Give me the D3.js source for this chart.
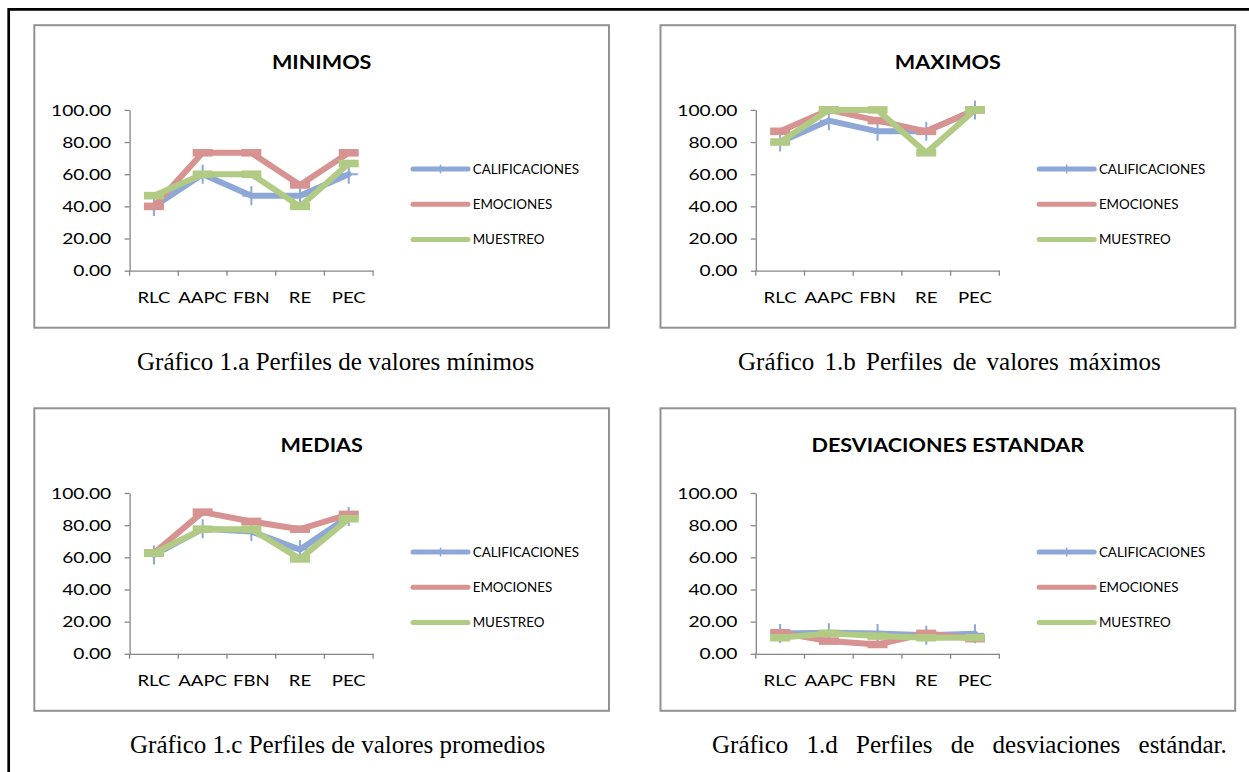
<!DOCTYPE html>
<html>
<head>
<meta charset="utf-8">
<script src="https://cdn.jsdelivr.net/npm/d3@7"></script>
<style>
  body { margin: 0; background: #fff; }
  svg { display: block; }
</style>
</head>
<body>
<svg id="fig" width="1249" height="772"></svg>
<script>
// ---- data ----
const categories = ["RLC", "AAPC", "FBN", "RE", "PEC"];
const seriesNames = ["CALIFICACIONES", "EMOCIONES", "MUESTREO"];
const yTickValues = [0, 20, 40, 60, 80, 100];

const panelTitles = ["MINIMOS", "MAXIMOS", "MEDIAS", "DESVIACIONES ESTANDAR"];
const captions = [
  "Gráfico 1.a Perfiles de valores mínimos",
  "Gráfico 1.b Perfiles de valores máximos",
  "Gráfico 1.c Perfiles de valores promedios",
  "Gráfico 1.d Perfiles de desviaciones estándar."
];

// mínimos
const minCalificaciones = [40.00, 60.00, 46.67, 46.67, 60.00];
const minEmociones      = [40.00, 73.33, 73.33, 53.33, 73.33];
const minMuestreo       = [46.67, 60.00, 60.00, 40.00, 66.67];
// máximos
const maxCalificaciones = [80.00, 93.33, 86.67, 86.67, 100.00];
const maxEmociones      = [86.67, 100.00, 93.33, 86.67, 100.00];
const maxMuestreo       = [80.00, 100.00, 100.00, 73.33, 100.00];
// medias
const medCalificaciones = [61.5, 77.7, 76.0, 64.8, 85.4];
const medEmociones      = [62.7, 88.1, 82.3, 77.5, 86.7];
const medMuestreo       = [62.5, 77.5, 77.5, 59.0, 84.0];
// desviaciones estándar
const desCalificaciones = [12.7, 13.1, 12.7, 11.5, 12.5];
const desEmociones      = [13.1, 7.9, 5.8, 12.7, 9.4];
const desMuestreo       = [10.0, 12.7, 11.0, 10.0, 10.0];

const panelSeries = [
  [minCalificaciones, minEmociones, minMuestreo],
  [maxCalificaciones, maxEmociones, maxMuestreo],
  [medCalificaciones, medEmociones, medMuestreo],
  [desCalificaciones, desEmociones, desMuestreo]
];

// ---- styling / layout ----
const colors = ["#8DA8D6", "#D69391", "#B2CB84"];
const markerKind = ["plus", "dash", "dash"];
const axisColor = "#868686";
const chartFont = "Lato, 'Open Sans', sans-serif";
const captionFont = "'Liberation Serif', 'Times New Roman', serif";
const SX = 1.2;            // horizontal stretch of the embedded chart text

const boxes = [
  { x: 34.3, y: 25.2 }, { x: 660.5, y: 25.2 },
  { x: 34.3, y: 408.3 }, { x: 660.5, y: 408.3 }
];
const boxW = 574.7, boxH = 302.5;
// caption placement: left edge, baseline, extra word spacing
const captionLayout = [
  { x: 137, y: 370, ws: 0 }, { x: 738, y: 370, ws: 4 },
  { x: 130, y: 753, ws: 0 }, { x: 712, y: 753, ws: 12 }
];

const svg = d3.select("#fig");
svg.append("rect").attr("width", 1249).attr("height", 772).attr("fill", "#fff");

// page frame (left and top rules)
svg.append("path")
  .attr("d", "M8.7,772V9.3H1249")
  .attr("fill", "none").attr("stroke", "#000").attr("stroke-width", 2.7);

function drawPanel(i) {
  const b = boxes[i];
  const g = svg.append("g").attr("transform", `translate(${b.x},${b.y})`);

  g.append("rect")
    .attr("width", boxW).attr("height", boxH)
    .attr("fill", "#fff").attr("stroke", "#929292").attr("stroke-width", 2);

  const x = d3.scaleBand().domain(categories).range([95.3, 338.8]);
  const y = d3.scaleLinear().domain([0, 100]).range([245.5, 84.7]);
  const cx = c => x(c) + x.bandwidth() / 2;

  // title
  g.append("text")
    .attr("transform", `translate(${boxW / 2},43.3) scale(${SX},1)`)
    .attr("text-anchor", "middle")
    .attr("font-family", chartFont).attr("font-weight", "bold")
    .attr("font-size", 18).attr("fill", "#000")
    .text(panelTitles[i]);

  // y axis
  const yAxis = g.append("g")
    .attr("transform", `translate(${x.range()[0]},0)`)
    .call(d3.axisLeft(y).tickValues(yTickValues).tickSize(5).tickSizeOuter(0)
      .tickPadding(10.3).tickFormat(d3.format(".2f")));
  yAxis.select(".domain").attr("stroke", axisColor).attr("stroke-width", 1.3);
  yAxis.selectAll(".tick line").attr("stroke", axisColor).attr("stroke-width", 1.3);
  yAxis.selectAll(".tick text")
    .attr("font-family", chartFont).attr("font-size", 16).attr("fill", "#000")
    .attr("transform", `scale(${SX},1)`);

  // x axis: labels centred in bands, ticks on band boundaries
  const xAxis = g.append("g")
    .attr("transform", `translate(0,${y(0)})`)
    .call(d3.axisBottom(x).tickSize(0).tickSizeOuter(0));
  xAxis.select(".domain").attr("stroke", axisColor).attr("stroke-width", 1.3);
  xAxis.selectAll(".tick text")
    .attr("font-family", chartFont).attr("font-size", 16).attr("fill", "#000")
    .attr("y", 32.5).attr("dy", 0)
    .attr("transform", `scale(${SX * 0.97},1)`);
  const bounds = categories.map(c => x(c)).concat([x.range()[1]]);
  xAxis.selectAll("line.bound").data(bounds).join("line")
    .attr("class", "bound")
    .attr("x1", d => d).attr("x2", d => d).attr("y1", 0).attr("y2", 5)
    .attr("stroke", axisColor).attr("stroke-width", 1.3);

  // series lines and markers
  const line = d3.line().x((v, k) => cx(categories[k])).y(v => y(v));
  panelSeries[i].forEach((vals, s) => {
    const sg = g.append("g");
    sg.append("path").datum(vals)
      .attr("d", line)
      .attr("fill", "none").attr("stroke", colors[s])
      .attr("stroke-width", 6).attr("stroke-linejoin", "round").attr("stroke-linecap", "round");
    const pts = sg.selectAll("g.pt").data(vals).join("g")
      .attr("transform", (v, k) => `translate(${cx(categories[k])},${y(v)})`);
    if (markerKind[s] === "plus") {
      pts.append("path").attr("d", "M-9,0H9M0,-9.5V9.5")
        .attr("stroke", colors[s]).attr("stroke-width", 2).attr("fill", "none");
    } else {
      pts.append("rect").attr("x", -10).attr("y", -3.8).attr("width", 20).attr("height", 7.6)
        .attr("fill", colors[s]);
    }
  });

  // legend
  const lg = g.append("g").attr("transform", "translate(378.7,143.8)");
  seriesNames.forEach((name, s) => {
    const row = lg.append("g").attr("transform", `translate(0,${s * 35.2})`);
    row.append("line").attr("x1", 0).attr("x2", 55).attr("y1", 0).attr("y2", 0)
      .attr("stroke", colors[s]).attr("stroke-width", 5).attr("stroke-linecap", "round");
    if (markerKind[s] === "plus") {
      row.append("line").attr("x1", 27.5).attr("x2", 27.5).attr("y1", -4.5).attr("y2", 4.5)
        .attr("stroke", colors[s]).attr("stroke-width", 1.5);
    }
    row.append("text").attr("x", 59.7).attr("dy", "0.36em")
      .attr("font-family", chartFont).attr("font-size", 13.4).attr("fill", "#000")
      .text(name);
  });

  // caption below the chart
  const cl = captionLayout[i];
  svg.append("text")
    .attr("x", cl.x).attr("y", cl.y)
    .attr("word-spacing", cl.ws)
    .attr("font-family", captionFont).attr("font-size", 25).attr("fill", "#000")
    .text(captions[i]);
}

[0, 1, 2, 3].forEach(drawPanel);
</script>
</body>
</html>
